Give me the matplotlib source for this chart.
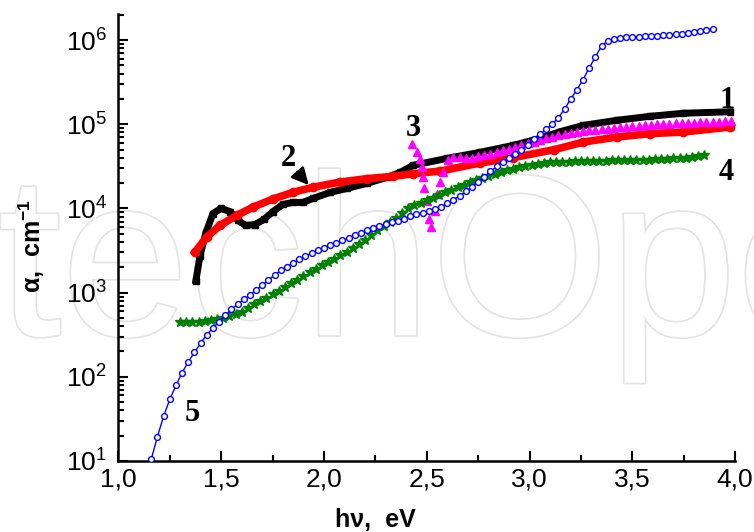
import numpy as np
import matplotlib.pyplot as plt
from matplotlib.ticker import FuncFormatter, LogLocator, MultipleLocator
import matplotlib.patheffects as pe

# curve 1 - black squares
x1 = [1.377, 1.397, 1.426, 1.460, 1.499, 1.543, 1.582, 1.620, 1.664, 1.708, 1.752, 1.800,
      1.849, 1.898, 1.946, 2.029, 2.112, 2.209, 2.306, 2.370, 2.433, 2.599, 2.759, 2.920,
      3.050, 3.150, 3.262, 3.424, 3.586, 3.747, 3.976]
y1 = [1390, 2750, 5180, 8710, 10000, 9200, 7200, 6280, 6450, 7400, 9200, 11170,
      11800, 11800, 13150, 15500, 17300, 19900, 23400, 26800, 32500, 39400, 46500, 56200,
      68000, 82000, 97200, 111600, 124500, 135300, 141000]

# curve 2 - red circles
x2 = [1.372, 1.429, 1.494, 1.575, 1.656, 1.753, 1.851, 1.948, 2.078, 2.208, 2.337, 2.435,
      2.565, 2.759, 2.921, 3.120, 3.262, 3.424, 3.586, 3.748, 3.976]
y2 = [3020, 4560, 6280, 8260, 10400, 13000, 15600, 17900, 20600, 22600, 24100, 25900,
      27800, 34700, 40200, 50000, 61600, 70600, 77500, 81000, 92900]

# curve 3 - magenta triangles
x3 = [2.427, 2.451, 2.467, 2.475, 2.480, 2.488, 2.500, 2.512, 2.521, 2.540, 2.551, 2.565,
      2.580, 2.605, 2.63, 2.66, 2.69, 2.72, 2.75, 2.78, 2.81, 2.84, 2.87, 2.90, 2.93,
      2.96, 2.99, 3.02, 3.05, 3.08, 3.11, 3.14, 3.17, 3.20, 3.23, 3.26, 3.29, 3.32, 3.35,
      3.38, 3.41, 3.44, 3.47, 3.50, 3.53, 3.56, 3.59, 3.62, 3.65, 3.68, 3.71, 3.74, 3.77,
      3.80, 3.83, 3.86, 3.89, 3.92, 3.95, 3.98]
y3 = [58900, 46800, 39000, 31000, 23600, 17600, 12400, 7540, 5990, 9460, 14700, 20600,
      27100, 37300, 40500, 40500, 39500, 40000, 41500, 43000, 45000, 47000, 49000, 51000, 53500,
      56500, 59500, 62000, 65000, 68000, 71000, 74000, 76500, 78500, 80500, 82500, 84500, 86000, 87500,
      89000, 90500, 92000, 93500, 95000, 96000, 97500, 99000, 100000, 101000, 102000, 103000, 103500, 104500,
      105000, 106000, 107000, 107500, 108000, 108500, 109000]

# curve 4 - green stars
x4 = [1.30, 1.33, 1.36, 1.39, 1.42, 1.45, 1.48, 1.51, 1.54, 1.57, 1.60, 1.63, 1.66, 1.69,
      1.72, 1.75, 1.78, 1.81, 1.84, 1.87, 1.90, 1.93, 1.96, 1.99, 2.02, 2.05, 2.08, 2.11,
      2.14, 2.17, 2.20, 2.23, 2.26, 2.29, 2.32, 2.35, 2.38, 2.41, 2.44, 2.47, 2.50, 2.53,
      2.56, 2.59, 2.62, 2.65, 2.68, 2.71, 2.74, 2.77, 2.80, 2.83, 2.86, 2.89, 2.92, 2.95,
      2.98, 3.01, 3.04, 3.07, 3.10, 3.13, 3.16, 3.19, 3.22, 3.25, 3.28, 3.31, 3.34, 3.37,
      3.40, 3.43, 3.46, 3.49, 3.52, 3.55, 3.58, 3.61, 3.64, 3.67, 3.70, 3.73, 3.76, 3.79,
      3.82, 3.85]
y4 = [442, 442, 447, 452, 462, 473, 484, 501, 525, 556, 596, 653, 724, 794,
      871, 955, 1060, 1175, 1290, 1430, 1585, 1760, 1930, 2140, 2340, 2540, 2790, 3050,
      3390, 3760, 4270, 4840, 5500, 6170, 6840, 7670, 8810, 10000, 10960, 11750, 12590, 13490,
      14450, 15490, 16600, 17780, 19050, 20420, 21880, 23170, 24550, 26000, 27230, 28510, 29510, 30900,
      31990, 33110, 33880, 34670, 35240, 35560, 35730, 35970, 36310, 36480, 36640, 36810, 36980, 37150,
      37240, 37330, 37500, 37670, 37840, 37930, 38020, 38370, 38730, 39080, 39450, 39810, 40270, 40930,
      41690, 42660]

# curve 5 - blue open circles
x5 = [1.16, 1.19, 1.22, 1.25, 1.28, 1.31, 1.34, 1.37, 1.40, 1.43, 1.46, 1.49, 1.52, 1.55,
      1.58, 1.61, 1.64, 1.67, 1.70, 1.73, 1.76, 1.79, 1.82, 1.85, 1.88, 1.91, 1.94, 1.97,
      2.00, 2.03, 2.06, 2.09, 2.12, 2.15, 2.18, 2.21, 2.24, 2.27, 2.30, 2.33, 2.36, 2.39,
      2.42, 2.45, 2.48, 2.51, 2.54, 2.57, 2.60, 2.63, 2.66, 2.69, 2.72, 2.75, 2.78, 2.81,
      2.84, 2.87, 2.90, 2.93, 2.96, 2.99, 3.02, 3.05, 3.08, 3.11, 3.14, 3.17, 3.20, 3.23,
      3.26, 3.29, 3.32, 3.35, 3.38, 3.41, 3.44, 3.47, 3.50, 3.53, 3.56, 3.59, 3.62, 3.65,
      3.68, 3.71, 3.74, 3.77, 3.80, 3.83, 3.86, 3.89]
y5 = [10.5, 19.5, 34, 54, 79, 112, 151, 195, 251, 316, 380, 452, 537, 631,
      733, 832, 944, 1070, 1230, 1410, 1620, 1840, 2040, 2260, 2480, 2720, 2950, 3200,
      3430, 3670, 3890, 4170, 4470, 4790, 5130, 5500, 5890, 6240, 6530, 6840, 7190, 7590,
      8130, 8610, 8910, 9330, 9770, 10470, 11480, 12740, 14130, 16030, 18200, 20650, 23700, 27540,
      31600, 35900, 40300, 44700, 50100, 57500, 66100, 75900, 87100, 100000, 120000, 151000, 200000, 257000,
      339000, 468000, 631000, 851000, 977000, 1035000, 1070000, 1085000, 1096000, 1100000, 1109000, 1117000, 1135000, 1148000,
      1161000, 1175000, 1194000, 1216000, 1245000, 1282000, 1324000, 1365000]

# curve number labels (text, x, y)
labels = [('1', 3.961, 193000), ('2', 1.825, 39400), ('3', 2.433, 89600),
          ('4', 3.956, 26800), ('5', 1.358, 37)]

plt.rcParams['font.family'] = ['Liberation Sans', 'DejaVu Sans']


def fmt_x(v, pos):
    return f'{v:.1f}'.replace('.', ',')


def fmt_y(v, pos):
    e = int(round(np.log10(v)))
    return r'$\mathregular{10^{%d}}$' % e


fig = plt.figure(figsize=(7.54, 5.32), dpi=100)
ax = fig.add_axes([0.157, 0.1335, 0.818, 0.84])

# faint watermark behind the data
ax.text(-0.003, 0.37, 'techOpen', transform=fig.transFigure, fontsize=165,
        color='white', zorder=0, clip_on=False, va='baseline',
        path_effects=[pe.withStroke(linewidth=2.5, foreground='#e4e4e4')])

ax.plot(x1, y1, color='black', lw=5, marker='s', ms=4, zorder=3)
ax.plot(x2, y2, color='red', lw=5.5, marker='o', ms=6, zorder=3.1)
ax.plot(x3, y3, color='#ff00ff', ls='none', marker='^', ms=6, zorder=3.2)
ax.plot(x4, y4, color='green', ls='none', marker='*', ms=7, zorder=3.3)
ax.plot(x5, y5, color='blue', lw=1, marker='o', ms=4.2, mfc='white', mew=1, zorder=3.4)

for t, tx, ty in labels:
    ax.text(tx, ty, t, fontsize=22, fontweight='bold', family='Liberation Serif',
            ha='center', va='center', zorder=5)

# arrow from label 2 to the red curve
ax.annotate('', xy=(1.935, 17900), xytext=(1.862, 28500),
            arrowprops=dict(arrowstyle='-|>,head_length=1.0,head_width=0.5',
                            color='black', lw=2), zorder=5)

ax.set_yscale('log')
ax.set_xlim(1.0, 4.0)
ax.set_ylim(10, 2.04e6)

ax.xaxis.set_major_locator(MultipleLocator(0.5))
ax.xaxis.set_minor_locator(MultipleLocator(0.25))
ax.xaxis.set_major_formatter(FuncFormatter(fmt_x))
ax.yaxis.set_major_locator(LogLocator(base=10, numticks=10))
ax.yaxis.set_minor_locator(LogLocator(base=10, subs=np.arange(2, 10), numticks=20))
ax.yaxis.set_major_formatter(FuncFormatter(fmt_y))

ax.tick_params(which='both', direction='in', width=1.5, labelsize=19)
ax.tick_params(which='major', length=7)
ax.tick_params(which='minor', length=4)
ax.tick_params(axis='y', pad=8)
ax.tick_params(axis='x', pad=5)

for s in ['top', 'right']:
    ax.spines[s].set_visible(False)
for s in ['left', 'bottom']:
    ax.spines[s].set_linewidth(1.8)

ax.set_xlabel('hν,  eV', fontsize=18, fontweight='bold')
ax.set_ylabel('α,  cm$^{\\mathregular{-1}}$', fontsize=18, fontweight='bold')
ax.xaxis.set_label_coords(0.416, -0.105)
ax.yaxis.set_label_coords(-0.116, 0.482)
ax.patch.set_alpha(0)

fig.savefig('out.png', dpi=100)
